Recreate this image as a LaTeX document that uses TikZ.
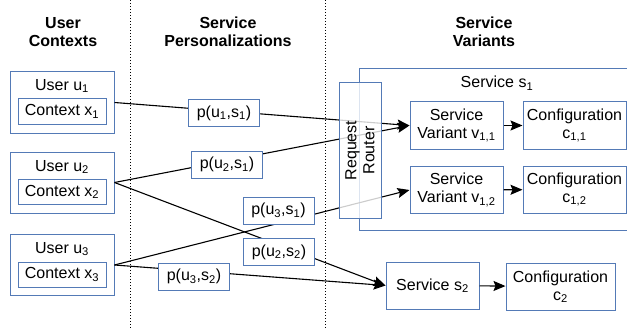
\documentclass[tikz,border=0pt]{standalone}
\usepackage{fontspec}
\setmainfont{Liberation Sans}
\usetikzlibrary{arrows.meta}
\definecolor{boxblue}{RGB}{84,122,182}
\tikzset{
  blbox/.style={draw=boxblue, line width=1pt, fill=white, inner sep=0pt, align=center},
  userbox/.style={blbox, minimum width=104pt, minimum height=61pt},
  ctxbox/.style={blbox, minimum width=88pt, minimum height=25pt},
  persbox/.style={blbox, minimum width=71pt, minimum height=27pt},
  varbox/.style={blbox, minimum width=93pt, minimum height=47pt},
  cfgbox/.style={blbox, minimum width=103pt, minimum height=47pt},
  heading/.style={font=\fontsize{16}{18}\selectfont\bfseries, align=center},
  link/.style={line width=1.1pt, -{Stealth[length=12pt,width=10pt,inset=2pt]}},
  divider/.style={line width=0.9pt, dash pattern=on 1.2pt off 1.8pt},
}
\begin{document}
\begin{tikzpicture}[x=1pt, y=-1pt, font=\fontsize{16}{18}\selectfont]
  \clip (0,0) rectangle (627,329);
  % headings and dividers
  \node[heading] (hcontexts) at (63,32) {User\\Contexts};
  \node[heading] (hpers) at (228,32) {Service\\Personalizations};
  \node[heading] (hvariants) at (484,32) {Service\\Variants};
  \coordinate (dtop1) at (130,0);
  \coordinate (dbot1) at (130,329);
  \coordinate (dtop2) at (325,0);
  \coordinate (dbot2) at (325,329);
  \draw[divider] (dtop1) -- (dbot1);
  \draw[divider] (dtop2) -- (dbot2);
  % users
  \node[userbox] (u1) at (62,102.5) {};
  \node (u1lbl) at (62,86) {User u\textsubscript{1}};
  \node[ctxbox] (x1) at (62,111.5) {Context x\textsubscript{1}};
  \node[userbox] (u2) at (62,182.5) {};
  \node (u2lbl) at (62,167) {User u\textsubscript{2}};
  \node[ctxbox] (x2) at (62,192) {Context x\textsubscript{2}};
  \node[userbox] (u3) at (62,265) {};
  \node (u3lbl) at (62,249) {User u\textsubscript{3}};
  \node[ctxbox] (x3) at (62,274.5) {Context x\textsubscript{3}};
  % service s1
  \draw[boxblue, line width=1pt] (640,69) rectangle (359,230);
  \node (s1lbl) at (497,83) {Service s\textsubscript{1}};
  \node[varbox] (v11) at (456.5,125.5) {Service\\Variant v\textsubscript{1,1}};
  \node[varbox] (v12) at (456.5,190) {Service\\Variant v\textsubscript{1,2}};
  \node[cfgbox] (c11) at (574.5,125.5) {Configuration\\c\textsubscript{1,1}};
  \node[cfgbox] (c12) at (574.5,189.5) {Configuration\\c\textsubscript{1,2}};
  % service s2
  \node[varbox] (s2) at (432.5,285.5) {Service s\textsubscript{2}};
  \node[cfgbox, minimum width=109pt] (c2) at (560.5,286.5) {Configuration\\c\textsubscript{2}};
  % connectors
  \draw[link] (u1.east) -- (v11.west);
  \draw[link] (u2.east) -- (v11.west);
  \draw[link] (u2.east) -- (s2.west);
  \draw[link] (u3.east) -- (v12.west);
  \draw[link] (u3.east) -- (s2.west);
  \draw[link] (v11) -- (c11);
  \draw[link] (v12) -- (c12);
  \draw[link] (s2) -- (c2);
  % personalizations
  \node[persbox] (pu1s1) at (224,113) {p(u\textsubscript{1},s\textsubscript{1})};
  \node[persbox] (pu2s1) at (227,164.5) {p(u\textsubscript{2},s\textsubscript{1})};
  \node[persbox] (pu3s1) at (278.5,210.5) {p(u\textsubscript{3},s\textsubscript{1})};
  \node[persbox] (pu2s2) at (279,252) {p(u\textsubscript{2},s\textsubscript{2})};
  \node[persbox] (pu3s2) at (194,276.5) {p(u\textsubscript{3},s\textsubscript{2})};
  % router
  \node[blbox, fill opacity=0.8, minimum width=42pt, minimum height=135pt] (router) at (360,150.5) {};
  \node[rotate=90, align=center] (routerlbl) at (router) {Request\\Router};
\end{tikzpicture}
\end{document}
